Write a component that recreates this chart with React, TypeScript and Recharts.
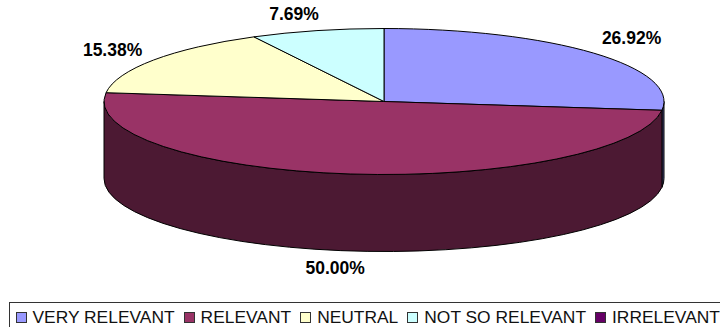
import React from 'react';
import { PieChart, Pie, Legend } from 'recharts';

const categories = ['VERY RELEVANT', 'RELEVANT', 'NEUTRAL', 'NOT SO RELEVANT', 'IRRELEVANT'];
const shares = [26.92, 50.0, 15.38, 7.69, 0];
const topColors = ['#9999FF', '#993366', '#FFFFCC', '#CCFFFF', '#660066'];
const wallColors = ['#4C4C80', '#4C1933', '#80806A', '#6A8080', '#330033'];
const labelNudges = [
  [38, -15],
  [-15, 17],
  [-41, -10],
  [-23, -17],
  [0, 0],
];

const rows = categories.map((name, i) => ({
  name,
  value: shares[i],
  fill: topColors[i],
  wall: wallColors[i],
  nudge: labelNudges[i],
}));

const WIDTH = 720;
const HEIGHT = 327;
const CX = 384;
const CY = 101.5;
const RX = 280;
const RY = 73;
const DEPTH = 77;

const RAD = Math.PI / 180;
const px = (cx: number, a: number) => cx + RX * Math.cos(a * RAD);
const py = (cy: number, a: number) => cy - RY * Math.sin(a * RAD);

// One slice of the tilted disc: the elliptical top face plus the part of its rim facing the viewer.
function DiscSlice(props: any) {
  const { cx, cy, startAngle, endAngle, fill, payload } = props;
  if (Math.abs(startAngle - endAngle) < 0.01) return <g />;
  const large = startAngle - endAngle > 180 ? 1 : 0;
  const top = `M${cx},${cy} L${px(cx, startAngle)},${py(cy, startAngle)} A${RX},${RY} 0 ${large} 1 ${px(cx, endAngle)},${py(cy, endAngle)} Z`;
  const from = Math.min(startAngle, 0);
  const to = Math.max(endAngle, -180);
  let wall = null;
  if (from > to) {
    const wallLarge = from - to > 180 ? 1 : 0;
    const d =
      `M${px(cx, from)},${py(cy, from)} A${RX},${RY} 0 ${wallLarge} 1 ${px(cx, to)},${py(cy, to)} ` +
      `L${px(cx, to)},${py(cy, to) + DEPTH} A${RX},${RY} 0 ${wallLarge} 0 ${px(cx, from)},${py(cy, from) + DEPTH} Z`;
    wall = <path d={d} fill={payload?.wall ?? props.wall} stroke="#000" strokeWidth={1} strokeLinejoin="round" />;
  }
  return (
    <g>
      {wall}
      <path d={top} fill={fill} stroke="#000" strokeWidth={1} strokeLinejoin="round" />
    </g>
  );
}

// Percentage placed outside the rim of its slice.
function ShareLabel(props: any) {
  const { cx, cy, midAngle, value, payload } = props;
  if (!value) return null;
  const nudge = payload?.nudge ?? props.nudge ?? [0, 0];
  const below = Math.sin(midAngle * RAD) < 0 ? DEPTH : 0;
  return (
    <text
      x={px(cx, midAngle) + nudge[0]}
      y={py(cy, midAngle) + below + nudge[1]}
      textAnchor="middle"
      dominantBaseline="central"
      fontFamily="Liberation Sans"
      fontWeight={700}
      fontSize={17.5}
      fill="#000"
    >
      {Number(value).toFixed(2)}%
    </text>
  );
}

function LegendRow({ payload }: any) {
  return (
    <div style={{ display: 'flex', alignItems: 'center', height: '100%', whiteSpace: 'nowrap' }}>
      {(payload ?? []).map((item: any, i: number) => (
        <span key={item.value} style={{ display: 'inline-flex', alignItems: 'center', marginRight: 9 }}>
          <span
            style={{
              display: 'inline-block',
              width: 9,
              height: 9,
              border: '1px solid #333',
              background: topColors[i],
              marginRight: 6,
            }}
          />
          {item.value}
        </span>
      ))}
    </div>
  );
}

export default function App() {
  return (
    <div style={{ position: 'absolute', left: 0, top: 0, width: WIDTH, height: HEIGHT, overflow: 'hidden', background: '#fff' }}>
      <PieChart width={WIDTH} height={HEIGHT} margin={{ top: 0, right: 0, bottom: 0, left: 0 }}>
        <Pie
          data={rows}
          dataKey="value"
          nameKey="name"
          cx={CX}
          cy={CY}
          outerRadius={RX}
          startAngle={90}
          endAngle={-270}
          stroke="#000"
          shape={DiscSlice}
          label={ShareLabel}
          labelLine={false}
          isAnimationActive={false}
        />
        <Legend
          content={LegendRow}
          itemSorter={null}
          wrapperStyle={{
            position: 'absolute',
            left: 9,
            top: 302,
            bottom: 'auto',
            width: 730,
            height: 30,
            boxSizing: 'border-box',
            border: '1px solid #333',
            paddingLeft: 5.5,
            fontFamily: 'Liberation Sans',
            fontSize: 17.4,
            color: '#111',
          }}
        />
      </PieChart>
    </div>
  );
}
